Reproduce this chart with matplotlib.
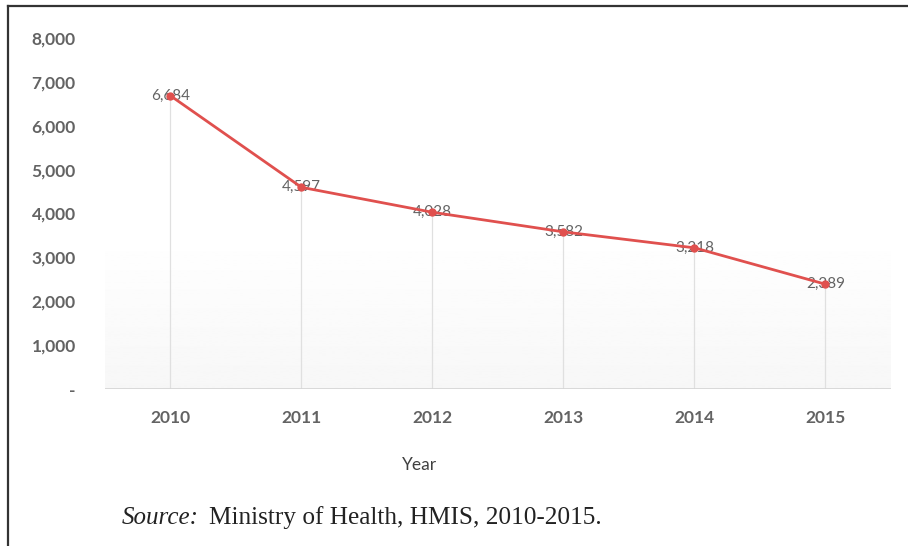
import numpy as np
import matplotlib
matplotlib.use('Agg')
import matplotlib.pyplot as plt
from matplotlib.lines import Line2D

# Datos
years = ['2010', '2011', '2012', '2013', '2014', '2015']
cases = [6684, 4597, 4028, 3582, 3218, 2389]
yticks = [0, 1000, 2000, 3000, 4000, 5000, 6000, 7000, 8000]
ytick_labels = ['-', '1,000', '2,000', '3,000', '4,000', '5,000', '6,000', '7,000', '8,000']

red = '#E0504E'
grey = '#636363'

fig = plt.figure(figsize=(9.08, 5.46), dpi=100)
ax = fig.add_axes([0.1156, 0.2875, 0.8656, 0.6429])

x = np.arange(len(years))
ax.set_xlim(-0.5, len(years) - 0.5)
ax.set_ylim(0, 8000)

# Fondo degradado del area de trazado
grad = np.linspace(1.0, 0.968, 100).reshape(-1, 1)
ax.imshow(grad, cmap='gray', vmin=0, vmax=1, aspect='auto',
          extent=(-0.5, len(years) - 0.5, 0, 3600), origin='upper', zorder=0)

# Lineas de caida
ax.vlines(x, 0, cases, color='#e0e0e0', lw=0.9, zorder=1)
ax.axhline(0, color='#d4d4d4', lw=1.2, zorder=1)

ax.plot(x, cases, color=red, lw=2.0, marker='o', ms=5, zorder=4)

for xi, v in zip(x, cases):
    ax.text(xi, v, f'{v:,}', ha='center', va='center', fontsize=11,
            color=grey, family='Lato', zorder=3)

for s in ax.spines.values():
    s.set_visible(False)

ax.set_xticks(x)
ax.set_xticklabels(years, fontsize=12.5, color=grey, family='Lato', weight='bold')
ax.set_yticks(yticks)
ax.set_yticklabels(ytick_labels, fontsize=12.5, color=grey, family='Lato', weight='bold')
ax.tick_params(axis='x', length=0, pad=15)
ax.tick_params(axis='y', length=0, pad=21)

fig.text(420 / 908, 1 - 465 / 546, 'Year', ha='center', va='center',
         fontsize=12.5, color='#404040', family='Lato')

fig.text(122 / 908, 1 - 518 / 546, 'Source:', ha='left', va='center',
         fontsize=18, style='italic', family='Liberation Serif', color='#222222')
fig.text(209 / 908, 1 - 518 / 546, 'Ministry of Health, HMIS, 2010-2015.', ha='left',
         va='center', fontsize=18.2, family='Liberation Serif', color='#222222')

# Marco exterior (arriba e izquierda)
fig.add_artist(Line2D([8 / 908, 1.0], [1 - 6 / 546, 1 - 6 / 546],
                      transform=fig.transFigure, color='#333333', lw=1.6))
fig.add_artist(Line2D([8 / 908, 8 / 908], [0, 1 - 6 / 546],
                      transform=fig.transFigure, color='#333333', lw=1.6))

fig.savefig('out.png', dpi=100)
